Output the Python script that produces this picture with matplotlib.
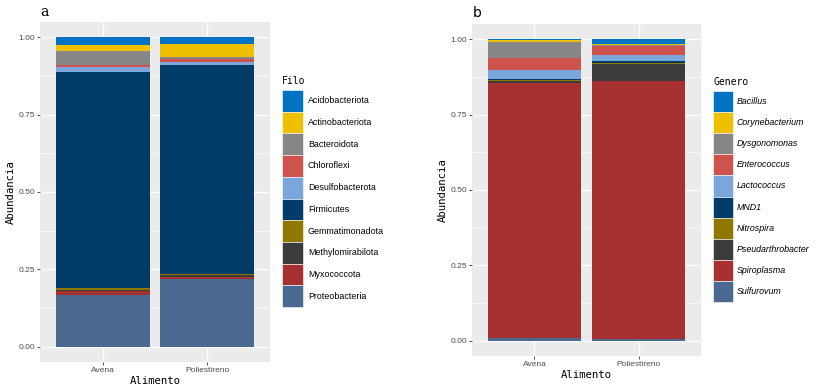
import matplotlib
matplotlib.use("Agg")
import matplotlib.pyplot as plt
from matplotlib.patches import Rectangle
import numpy as np

W, H = 818, 386

alimentos = ["Avena", "Poliestireno"]

filos = ["Acidobacteriota", "Actinobacteriota", "Bacteroidota", "Chloroflexi",
         "Desulfobacterota", "Firmicutes", "Gemmatimonadota", "Methylomirabilota",
         "Myxococcota", "Proteobacteria"]
filo_avena = [0.025, 0.019, 0.046, 0.007, 0.016, 0.698, 0.006, 0.004, 0.012, 0.167]
filo_poli = [0.022, 0.042, 0.006, 0.008, 0.011, 0.676, 0.004, 0.005, 0.008, 0.218]

generos = ["Bacillus", "Corynebacterium", "Dysgonomonas", "Enterococcus",
           "Lactococcus", "MND1", "Nitrospira", "Pseudarthrobacter",
           "Spiroplasma", "Sulfurovum"]
gen_avena = [0.004, 0.007, 0.050, 0.040, 0.030, 0.004, 0.004, 0.008, 0.845, 0.008]
gen_poli = [0.017, 0.004, 0.002, 0.031, 0.018, 0.007, 0.005, 0.054, 0.856, 0.006]

colores = ["#0073C2", "#EFC000", "#868686", "#CD534C", "#7AA6DC",
           "#003C67", "#8F7700", "#3B3B3B", "#A73030", "#4A6990"]

yticks = [0.0, 0.25, 0.5, 0.75, 1.0]
ytick_labels = ["0.00", "0.25", "0.50", "0.75", "1.00"]

fig = plt.figure(figsize=(W / 100, H / 100), dpi=100)
fig.patch.set_facecolor("white")

MONO = "DejaVu Sans Mono"
SANS = "Liberation Sans"


def px_axes(l, r, t, b):
    return fig.add_axes([l / W, 1 - b / H, (r - l) / W, (b - t) / H])


def panel(ax, names, v1, v2):
    x = np.arange(1, len(alimentos) + 1)
    vals = np.array([v1, v2])  # shape (2, n)
    n = len(names)
    bottoms = np.zeros(2)
    # ggplot stacks first level on top -> draw from last to first
    for i in range(n - 1, -1, -1):
        ax.bar(x, vals[:, i], bottom=bottoms, width=0.9, color=colores[i],
               linewidth=0, zorder=3)
        bottoms += vals[:, i]
    ax.set_xlim(0.4, 2.6)
    ax.set_ylim(-0.05, 1.05)
    ax.set_facecolor("#EBEBEB")
    for s in ax.spines.values():
        s.set_visible(False)
    ax.set_yticks(yticks)
    ax.set_yticklabels(ytick_labels)
    ax.set_xticks(x)
    ax.set_xticklabels(alimentos)
    ax.set_yticks([0.125, 0.375, 0.625, 0.875], minor=True)
    ax.grid(True, which="major", color="white", linewidth=0.9, zorder=0)
    ax.grid(True, which="minor", axis="y", color="white", linewidth=0.45, zorder=0)
    ax.set_axisbelow(True)
    ax.tick_params(axis="both", which="major", length=2.2, width=0.6,
                   color="#333333", labelsize=6, labelcolor="#4D4D4D", pad=1.5)
    ax.tick_params(axis="both", which="minor", length=0)
    for lab in ax.get_xticklabels() + ax.get_yticklabels():
        lab.set_fontfamily(SANS)
    ax.set_xlabel("Alimento", fontfamily=MONO, fontsize=7.7, labelpad=1)
    ax.set_ylabel("Abundancia", fontfamily=MONO, fontsize=7.7, labelpad=2)


ax1 = px_axes(40, 270, 22, 362)
panel(ax1, filos, filo_avena, filo_poli)
ax2 = px_axes(472, 701, 24, 356)
panel(ax2, generos, gen_avena, gen_poli)

fig.text(40 / W, 1 - 12 / H, "a", fontfamily="DejaVu Serif", fontsize=10, va="center", ha="left")
fig.text(473 / W, 1 - 13 / H, "b", fontfamily="DejaVu Sans", fontsize=10, va="center", ha="left")


def legend(names, title, x, y_title, y_top, kw, kh, text_x, italic):
    fig.text(x / W, 1 - y_title / H, title, fontfamily=MONO, fontsize=7,
             ha="left", va="center")
    for i, (name, col) in enumerate(zip(names, colores)):
        top = y_top + i * kh
        fig.add_artist(Rectangle((x / W, 1 - (top + kh) / H), kw / W, kh / H,
                                 transform=fig.transFigure, facecolor=col,
                                 edgecolor="white", linewidth=0.4))
        fig.text(text_x / W, 1 - (top + kh / 2) / H, name, fontfamily=SANS,
                 fontsize=6.4, style="italic" if italic else "normal",
                 ha="left", va="center")


legend(filos, "Filo", 282, 81, 90, 21, 21.7, 308, False)
legend(generos, "Genero", 713, 82, 91, 20, 21.1, 737, True)

fig.savefig("out.png", dpi=100)
